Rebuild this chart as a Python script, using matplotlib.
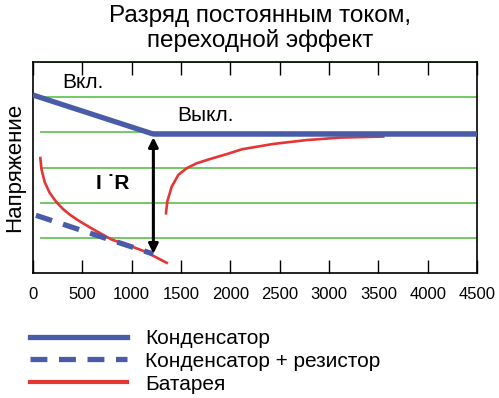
import matplotlib.pyplot as plt
from matplotlib.lines import Line2D

plt.rcParams['font.family'] = ['Liberation Sans', 'DejaVu Sans']

# данные
konds_x = [0, 1220, 4500]
konds_y = [5.06, 3.95, 3.95]

konds_r_x = [30, 1220]
konds_r_y = [1.64, 0.54]

bat1_x = [74, 86, 119, 169, 236, 304, 372, 473, 575, 650, 798, 966, 1135, 1355]
bat1_y = [3.27, 2.95, 2.58, 2.28, 2.02, 1.82, 1.66, 1.47, 1.30, 1.18, 0.95, 0.79, 0.61, 0.29]

bat2_x = [1348, 1361, 1405, 1473, 1558, 1659, 1794, 1963, 2120, 2436, 2774, 3111, 3550]
bat2_y = [1.70, 2.03, 2.45, 2.79, 2.98, 3.12, 3.24, 3.38, 3.52, 3.67, 3.78, 3.85, 3.88]

niveles = [1, 2, 3, 4, 5, 6]
marcas_x = [0, 500, 1000, 1500, 2000, 2500, 3000, 3500, 4000, 4500]

azul = '#4a5ca8'
rojo = '#e53535'
verde = '#5cc04a'

fig = plt.figure(figsize=(4.99, 3.98), dpi=100)
ax = fig.add_axes([33 / 499, 1 - 273 / 398, 444 / 499, 211 / 398])

ax.hlines(niveles, 70, 4500, color=verde, lw=1.2, zorder=1)

ax.plot(bat1_x, bat1_y, color=rojo, lw=1.9, zorder=3)
ax.plot(bat2_x, bat2_y, color=rojo, lw=1.9, zorder=3)
ax.plot(konds_x, konds_y, color=azul, lw=3.8, zorder=4, solid_capstyle='butt')
ax.plot(konds_r_x, konds_r_y, color=azul, lw=3.8, zorder=4,
        dashes=(3.2, 2.2), dash_capstyle='butt')

ax.annotate('', xy=(1220, 3.86), xytext=(1220, 0.55),
            arrowprops=dict(arrowstyle='<|-|>', color='black', lw=2.2,
                            mutation_scale=14, shrinkA=0, shrinkB=0), zorder=5)

ax.text(810, 2.55, 'I \u02d9R', fontsize=15, fontweight='bold', ha='center', va='center')
ax.text(300, 5.42, 'Вкл.', fontsize=15, ha='left', va='center')
ax.text(1460, 4.48, 'Выкл.', fontsize=15, ha='left', va='center')

ax.set_xlim(0, 4500)
ax.set_ylim(0, 6)
ax.set_xticks(marcas_x)
ax.set_yticks([])
ax.tick_params(axis='x', direction='in', length=9.5, width=1, top=True,
               labelsize=12, pad=10)
for s in ax.spines.values():
    s.set_linewidth(1.2)

ax.set_ylabel('Напряжение', fontsize=16, labelpad=6)

fig.text(260 / 499, 1 - 16 / 398, 'Разряд постоянным током,', fontsize=17.5,
         ha='center', va='center')
fig.text(260 / 499, 1 - 41 / 398, 'переходной эффект', fontsize=17.5,
         ha='center', va='center')

manejas = [
    Line2D([], [], color=azul, lw=3.8),
    Line2D([], [], color=azul, lw=3.8, dashes=(3.2, 2.2)),
    Line2D([], [], color=rojo, lw=3),
]
etiquetas = ['Конденсатор', 'Конденсатор + резистор', 'Батарея']
fig.legend(manejas, etiquetas, loc='upper left', bbox_to_anchor=(30 / 499, 1 - 329 / 398),
           frameon=False, fontsize=15, handlelength=4.66, handletextpad=0.87,
           labelspacing=0.18, borderpad=0, borderaxespad=0)

fig.savefig('out.png', dpi=100)
